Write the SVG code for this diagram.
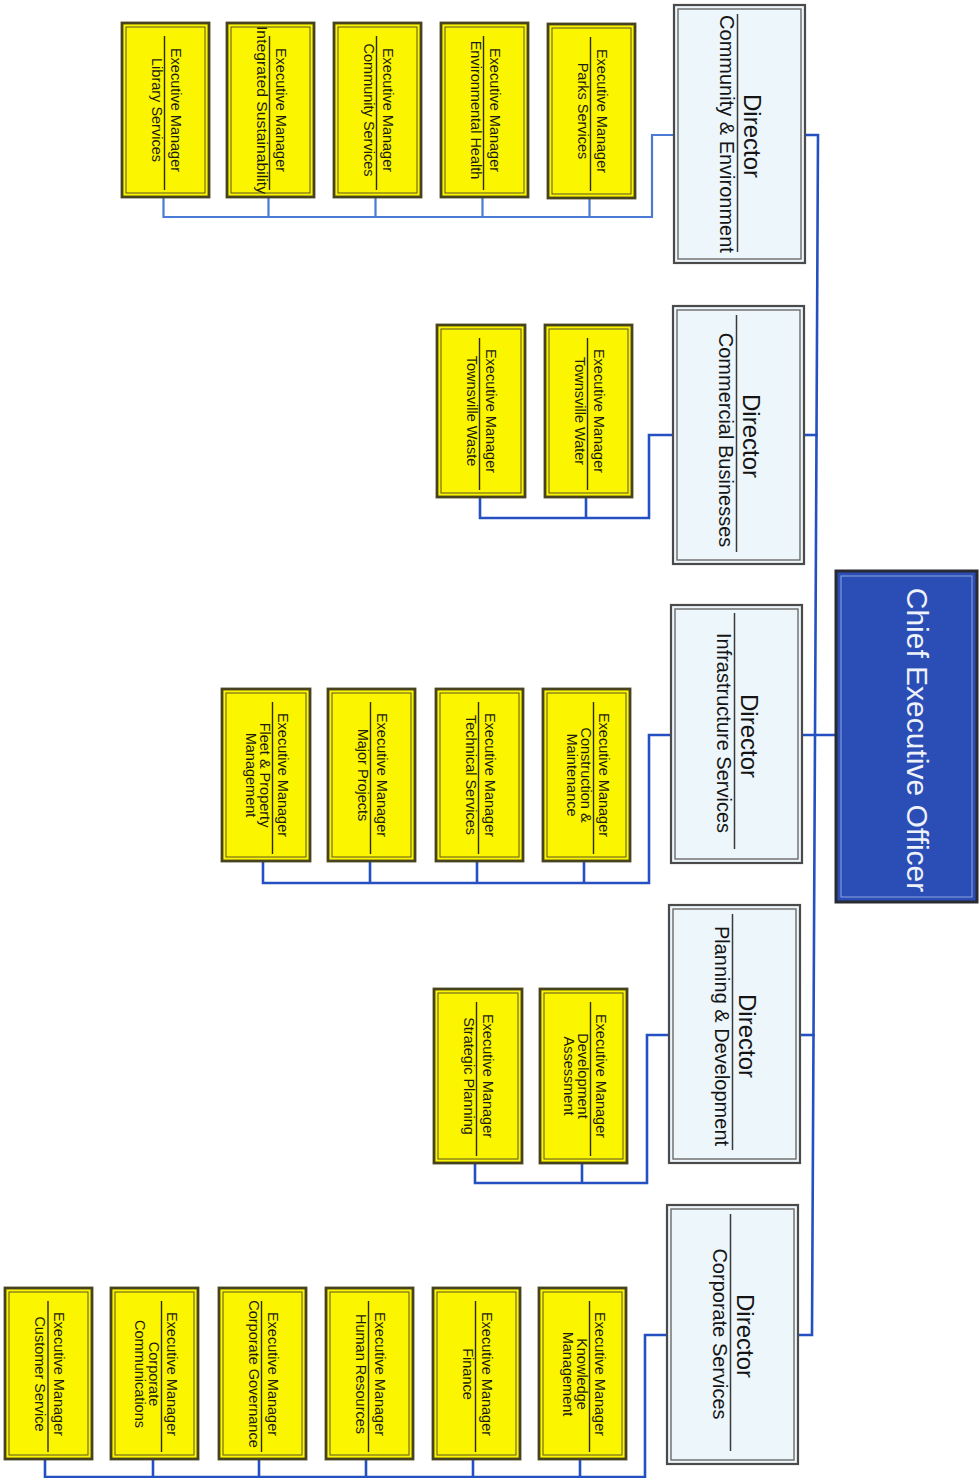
<svg xmlns="http://www.w3.org/2000/svg" width="980" height="1478" viewBox="0 0 980 1478">
<defs>
<style>
.conn{fill:none;stroke:#2450c2;stroke-width:2.6;stroke-linejoin:miter;stroke-linecap:square}
.light{stroke:#4a7bd6;stroke-width:2.2}
.ceo-o{fill:#2b4db6;stroke:#2a2a33;stroke-width:3}
.ceo-i{fill:none;stroke:#8ea5dd;stroke-width:1}
.ceo-t{font-family:"Liberation Sans",Arial,sans-serif;font-size:30px;fill:#eef2fb;text-anchor:middle}
.dir-o{fill:#edf6fb;stroke:#4a4a4a;stroke-width:2.2}
.dir-i{fill:none;stroke:#6a6a6a;stroke-width:1.4}
.dir-sep{stroke:#3a3a3a;stroke-width:1.5}
.dir-t1{font-family:"Liberation Sans",Arial,sans-serif;font-size:24px;fill:#151515;text-anchor:middle}
.dir-t2{font-family:"Liberation Sans",Arial,sans-serif;font-size:20px;fill:#151515;text-anchor:middle}
.em-o{fill:#fbf500;stroke:#47431f;stroke-width:2.8}
.em-i{fill:none;stroke:#5b5525;stroke-width:1}
.em-sep{stroke:#2e2a10;stroke-width:1.4}
.em-t{font-family:"Liberation Sans",Arial,sans-serif;font-size:14.5px;fill:#1c1c10;text-anchor:middle}
</style>
</defs>
<rect width="980" height="1478" fill="#ffffff"/>

<g id="connectors">
  <path class="conn" d="M805,135 H818 L812,1335 H798"/>
  <path class="conn" d="M804,435 H816.5"/>
  <path class="conn" d="M802,735 H836"/>
  <path class="conn" d="M800,1035 H813.5"/>
  <path class="conn light" d="M674,135 H652 V217 H163.5 M163.5,197 V217 M268.5,197 V217 M375.5,197 V217 M482.5,197 V217 M589.5,197 V217"/>
  <path class="conn" d="M673,435 H649 V518 H480 M480,497 V518 M586,497 V518"/>
  <path class="conn" d="M671,735 H649 V883 H263 M263,861 V883 M370,861 V883 M477,861 V883 M584,861 V883"/>
  <path class="conn" d="M669,1035 H647 V1183 H475 M475,1163 V1183 M582,1163 V1183"/>
  <path class="conn" d="M667,1335 H645 V1480 M45,1477 H645 M45,1459 V1477 M153,1459 V1477 M259,1459 V1477 M366,1459 V1477 M473,1459 V1477 M580,1459 V1477"/>
</g>

<g id="ceo">
  <rect class="ceo-o" x="836" y="571" width="141" height="331"/>
  <rect class="ceo-i" x="841" y="576" width="131" height="321"/>
  <text class="ceo-t" transform="translate(907,740) rotate(90)">Chief Executive Officer</text>
</g>

<g id="dir-community">
  <rect class="dir-o" x="674" y="5" width="131" height="258"/>
  <rect class="dir-i" x="678" y="9" width="123" height="250"/>
  <line class="dir-sep" x1="737.5" y1="14" x2="737.5" y2="252"/>
  <text class="dir-t1" transform="translate(743.5,136) rotate(90)">Director</text>
  <text class="dir-t2" transform="translate(720,134) rotate(90)">Community &amp; Environment</text>
</g>
<g id="dir-commercial">
  <rect class="dir-o" x="673" y="306" width="131" height="258"/>
  <rect class="dir-i" x="677" y="310" width="123" height="250"/>
  <line class="dir-sep" x1="736.5" y1="315" x2="736.5" y2="552"/>
  <text class="dir-t1" transform="translate(742.5,436) rotate(90)">Director</text>
  <text class="dir-t2" transform="translate(719,440) rotate(90)">Commercial Businesses</text>
</g>
<g id="dir-infrastructure">
  <rect class="dir-o" x="671" y="605" width="131" height="258"/>
  <rect class="dir-i" x="675" y="609" width="123" height="250"/>
  <line class="dir-sep" x1="734.5" y1="613" x2="734.5" y2="849"/>
  <text class="dir-t1" transform="translate(740.5,736) rotate(90)">Director</text>
  <text class="dir-t2" transform="translate(717,733) rotate(90)">Infrastructure Services</text>
</g>
<g id="dir-planning">
  <rect class="dir-o" x="669" y="905" width="131" height="258"/>
  <rect class="dir-i" x="673" y="909" width="123" height="250"/>
  <line class="dir-sep" x1="732.5" y1="914" x2="732.5" y2="1150"/>
  <text class="dir-t1" transform="translate(738.5,1036) rotate(90)">Director</text>
  <text class="dir-t2" transform="translate(715,1036) rotate(90)">Planning &amp; Development</text>
</g>
<g id="dir-corporate">
  <rect class="dir-o" x="667" y="1205" width="131" height="259"/>
  <rect class="dir-i" x="671" y="1209" width="123" height="251"/>
  <line class="dir-sep" x1="730.5" y1="1214" x2="730.5" y2="1451"/>
  <text class="dir-t1" transform="translate(736.5,1336) rotate(90)">Director</text>
  <text class="dir-t2" transform="translate(713,1334) rotate(90)">Corporate Services</text>
</g>

<!-- Community & Environment children -->
<g id="em-library">
  <rect class="em-o" x="122" y="23" width="87" height="174"/>
  <rect class="em-i" x="126" y="27" width="79" height="166"/>
  <line class="em-sep" x1="164.5" y1="36" x2="164.5" y2="190"/>
  <text class="em-t" transform="translate(170.5,110) rotate(90)">Executive Manager</text>
  <text class="em-t" transform="translate(151.5,110) rotate(90)">Library Services</text>
</g>
<g id="em-sustainability">
  <rect class="em-o" x="227" y="23" width="87" height="174"/>
  <rect class="em-i" x="231" y="27" width="79" height="166"/>
  <line class="em-sep" x1="269.5" y1="36" x2="269.5" y2="190"/>
  <text class="em-t" transform="translate(275.5,110) rotate(90)">Executive Manager</text>
  <text class="em-t" transform="translate(256.5,110) rotate(90)" textLength="168" lengthAdjust="spacingAndGlyphs">Integrated Sustainability</text>
</g>
<g id="em-community">
  <rect class="em-o" x="334" y="23" width="87" height="174"/>
  <rect class="em-i" x="338" y="27" width="79" height="166"/>
  <line class="em-sep" x1="376.5" y1="36" x2="376.5" y2="190"/>
  <text class="em-t" transform="translate(382.5,110) rotate(90)">Executive Manager</text>
  <text class="em-t" transform="translate(363.5,110) rotate(90)">Community Services</text>
</g>
<g id="em-envhealth">
  <rect class="em-o" x="441" y="23" width="87" height="174"/>
  <rect class="em-i" x="445" y="27" width="79" height="166"/>
  <line class="em-sep" x1="483.5" y1="36" x2="483.5" y2="190"/>
  <text class="em-t" transform="translate(489.5,110) rotate(90)">Executive Manager</text>
  <text class="em-t" transform="translate(470.5,110) rotate(90)">Environmental Health</text>
</g>
<g id="em-parks">
  <rect class="em-o" x="548" y="24" width="87" height="174"/>
  <rect class="em-i" x="552" y="28" width="79" height="166"/>
  <line class="em-sep" x1="590.5" y1="37" x2="590.5" y2="191"/>
  <text class="em-t" transform="translate(596.5,111) rotate(90)">Executive Manager</text>
  <text class="em-t" transform="translate(577.5,111) rotate(90)">Parks Services</text>
</g>

<!-- Commercial Businesses children -->
<g id="em-waste">
  <rect class="em-o" x="437" y="325" width="88" height="172"/>
  <rect class="em-i" x="441" y="329" width="80" height="164"/>
  <line class="em-sep" x1="479.5" y1="338" x2="479.5" y2="490"/>
  <text class="em-t" transform="translate(485.5,411) rotate(90)">Executive Manager</text>
  <text class="em-t" transform="translate(466.5,411) rotate(90)">Townsville Waste</text>
</g>
<g id="em-water">
  <rect class="em-o" x="545" y="325" width="87" height="172"/>
  <rect class="em-i" x="549" y="329" width="79" height="164"/>
  <line class="em-sep" x1="587.5" y1="338" x2="587.5" y2="490"/>
  <text class="em-t" transform="translate(593.5,411) rotate(90)">Executive Manager</text>
  <text class="em-t" transform="translate(574.5,411) rotate(90)">Townsville Water</text>
</g>

<!-- Infrastructure Services children -->
<g id="em-fleet">
  <rect class="em-o" x="222" y="689" width="88" height="172"/>
  <rect class="em-i" x="226" y="693" width="80" height="164"/>
  <line class="em-sep" x1="272.5" y1="702" x2="272.5" y2="854"/>
  <text class="em-t" transform="translate(277.5,775) rotate(90)">Executive Manager</text>
  <text class="em-t" transform="translate(259.5,775) rotate(90)">Fleet &amp; Property</text>
  <text class="em-t" transform="translate(245.5,775) rotate(90)">Management</text>
</g>
<g id="em-major">
  <rect class="em-o" x="328" y="689" width="87" height="172"/>
  <rect class="em-i" x="332" y="693" width="79" height="164"/>
  <line class="em-sep" x1="370.5" y1="702" x2="370.5" y2="854"/>
  <text class="em-t" transform="translate(376.5,775) rotate(90)">Executive Manager</text>
  <text class="em-t" transform="translate(357.5,775) rotate(90)">Major Projects</text>
</g>
<g id="em-technical">
  <rect class="em-o" x="436" y="689" width="87" height="172"/>
  <rect class="em-i" x="440" y="693" width="79" height="164"/>
  <line class="em-sep" x1="478.5" y1="702" x2="478.5" y2="854"/>
  <text class="em-t" transform="translate(484.5,775) rotate(90)">Executive Manager</text>
  <text class="em-t" transform="translate(465.5,775) rotate(90)">Technical Services</text>
</g>
<g id="em-construction">
  <rect class="em-o" x="543" y="689" width="87" height="172"/>
  <rect class="em-i" x="547" y="693" width="79" height="164"/>
  <line class="em-sep" x1="593.5" y1="702" x2="593.5" y2="854"/>
  <text class="em-t" transform="translate(598.5,775) rotate(90)">Executive Manager</text>
  <text class="em-t" transform="translate(580.5,775) rotate(90)">Construction &amp;</text>
  <text class="em-t" transform="translate(566.5,775) rotate(90)">Maintenance</text>
</g>

<!-- Planning & Development children -->
<g id="em-strategic">
  <rect class="em-o" x="434" y="989" width="88" height="174"/>
  <rect class="em-i" x="438" y="993" width="80" height="166"/>
  <line class="em-sep" x1="476.5" y1="1002" x2="476.5" y2="1156"/>
  <text class="em-t" transform="translate(482.5,1076) rotate(90)">Executive Manager</text>
  <text class="em-t" transform="translate(463.5,1076) rotate(90)">Strategic Planning</text>
</g>
<g id="em-devassess">
  <rect class="em-o" x="540" y="989" width="87" height="174"/>
  <rect class="em-i" x="544" y="993" width="79" height="166"/>
  <line class="em-sep" x1="590.5" y1="1002" x2="590.5" y2="1156"/>
  <text class="em-t" transform="translate(596,1076) rotate(90)">Executive Manager</text>
  <text class="em-t" transform="translate(578,1076) rotate(90)">Development</text>
  <text class="em-t" transform="translate(564,1076) rotate(90)">Assessment</text>
</g>

<!-- Corporate Services children -->
<g id="em-customer">
  <rect class="em-o" x="5" y="1288" width="87" height="171"/>
  <rect class="em-i" x="9" y="1292" width="79" height="163"/>
  <line class="em-sep" x1="48" y1="1301" x2="48" y2="1452"/>
  <text class="em-t" transform="translate(53.5,1374) rotate(90)">Executive Manager</text>
  <text class="em-t" transform="translate(34.5,1374) rotate(90)">Customer Service</text>
</g>
<g id="em-communications">
  <rect class="em-o" x="111" y="1288" width="87" height="171"/>
  <rect class="em-i" x="115" y="1292" width="79" height="163"/>
  <line class="em-sep" x1="161.5" y1="1301" x2="161.5" y2="1452"/>
  <text class="em-t" transform="translate(166.5,1374) rotate(90)">Executive Manager</text>
  <text class="em-t" transform="translate(148.5,1374) rotate(90)">Corporate</text>
  <text class="em-t" transform="translate(134.5,1374) rotate(90)">Communications</text>
</g>
<g id="em-governance">
  <rect class="em-o" x="219" y="1288" width="87" height="171"/>
  <rect class="em-i" x="223" y="1292" width="79" height="163"/>
  <line class="em-sep" x1="261.5" y1="1301" x2="261.5" y2="1452"/>
  <text class="em-t" transform="translate(267.5,1374) rotate(90)">Executive Manager</text>
  <text class="em-t" transform="translate(248.5,1374) rotate(90)">Corporate Governance</text>
</g>
<g id="em-hr">
  <rect class="em-o" x="326" y="1288" width="87" height="171"/>
  <rect class="em-i" x="330" y="1292" width="79" height="163"/>
  <line class="em-sep" x1="368.5" y1="1301" x2="368.5" y2="1452"/>
  <text class="em-t" transform="translate(374.5,1374) rotate(90)">Executive Manager</text>
  <text class="em-t" transform="translate(355.5,1374) rotate(90)">Human Resources</text>
</g>
<g id="em-finance">
  <rect class="em-o" x="433" y="1288" width="87" height="171"/>
  <rect class="em-i" x="437" y="1292" width="79" height="163"/>
  <line class="em-sep" x1="475.5" y1="1301" x2="475.5" y2="1452"/>
  <text class="em-t" transform="translate(481.5,1374) rotate(90)">Executive Manager</text>
  <text class="em-t" transform="translate(462.5,1374) rotate(90)">Finance</text>
</g>
<g id="em-knowledge">
  <rect class="em-o" x="539" y="1288" width="87" height="171"/>
  <rect class="em-i" x="543" y="1292" width="79" height="163"/>
  <line class="em-sep" x1="589.5" y1="1301" x2="589.5" y2="1452"/>
  <text class="em-t" transform="translate(594.5,1374) rotate(90)">Executive Manager</text>
  <text class="em-t" transform="translate(576.5,1374) rotate(90)">Knowledge</text>
  <text class="em-t" transform="translate(562.5,1374) rotate(90)">Management</text>
</g>
</svg>
